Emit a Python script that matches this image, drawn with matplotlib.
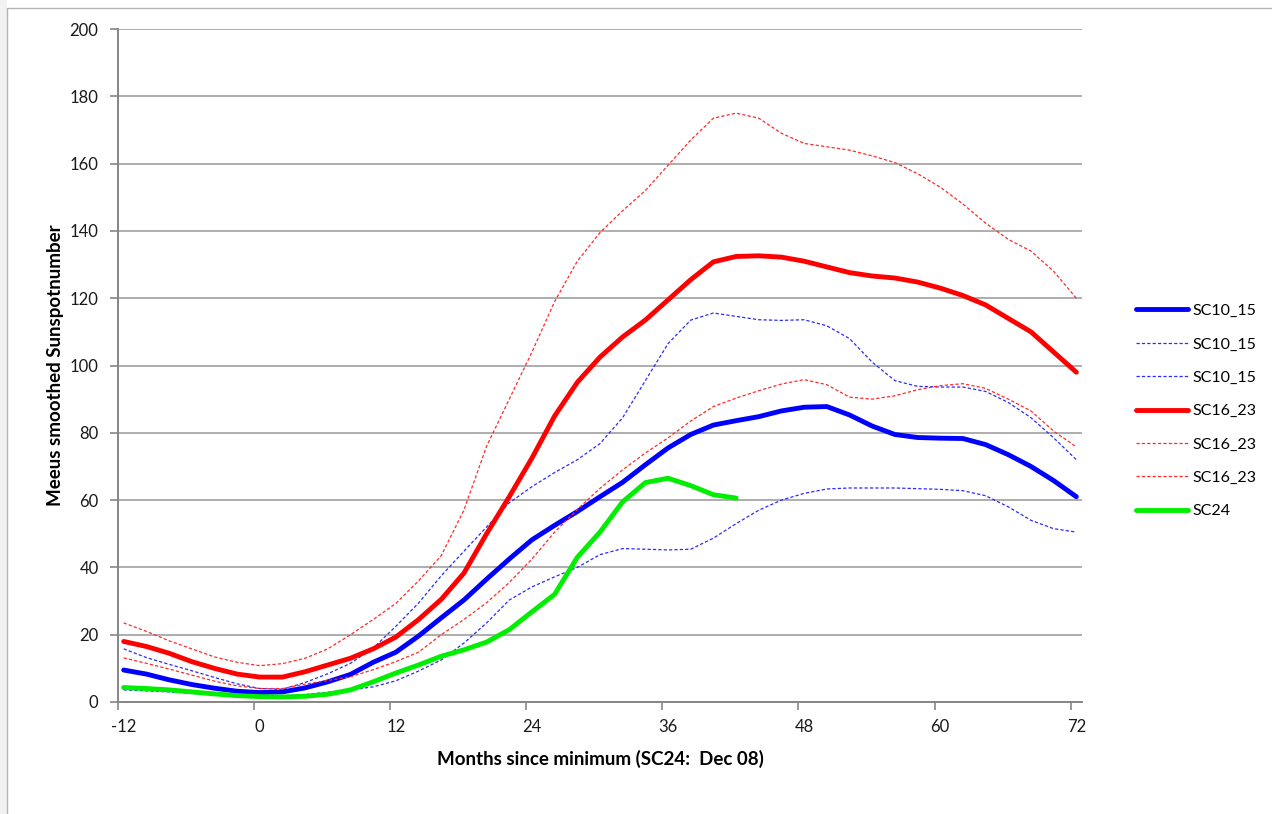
import numpy as np
import matplotlib
matplotlib.use('Agg')
import matplotlib.pyplot as plt
from matplotlib.patches import Rectangle

plt.rcParams['font.family'] = ['Lato', 'DejaVu Sans']

# months since minimum, every 2 months
months = np.arange(-12, 73, 2)
months_sc24 = np.arange(-12, 43, 2)

sc10_15_mean = [9.5, 8.3, 6.6, 5.2, 4.1, 3.2, 2.8, 3.0, 4.2, 6.0, 8.2, 11.8, 14.8,
                19.6, 25.0, 30.3, 36.5, 42.5, 48.2, 52.5, 56.6, 61.0, 65.3, 70.5,
                75.5, 79.5, 82.3, 83.6, 84.8, 86.5, 87.6, 87.8, 85.3, 82.0, 79.5,
                78.6, 78.4, 78.3, 76.5, 73.5, 70.0, 65.8, 61.0]
sc10_15_hi = [15.8, 13.2, 11.2, 9.3, 7.3, 5.4, 4.0, 3.8, 5.8, 8.4, 11.5, 16.0, 22.5,
              29.4, 37.5, 44.8, 52.0, 59.2, 64.0, 68.2, 72.0, 76.8, 84.5, 95.5,
              106.5, 113.5, 115.6, 114.6, 113.6, 113.4, 113.6, 111.8, 108.0, 101.0,
              95.5, 93.8, 93.6, 93.6, 92.3, 89.0, 84.5, 78.5, 72.0]
sc10_15_lo = [3.6, 3.3, 3.0, 2.6, 2.2, 1.9, 1.7, 1.8, 2.2, 2.9, 3.6, 4.5, 6.3,
              9.2, 12.5, 17.5, 23.5, 30.3, 34.2, 37.2, 40.0, 43.8, 45.6, 45.4,
              45.2, 45.4, 48.7, 53.0, 57.0, 60.0, 62.0, 63.3, 63.6, 63.6, 63.6,
              63.4, 63.2, 62.8, 61.3, 58.0, 54.0, 51.5, 50.5]
sc16_23_mean = [18.0, 16.5, 14.5, 12.0, 10.0, 8.3, 7.4, 7.4, 9.0, 11.0, 13.0, 15.8,
                19.3, 24.5, 30.5, 38.3, 50.0, 61.0, 72.5, 85.0, 95.0, 102.5, 108.5,
                113.5, 119.5, 125.5, 130.8, 132.4, 132.6, 132.2, 131.0, 129.3, 127.6,
                126.6, 126.0, 124.8, 123.0, 120.8, 118.0, 114.0, 110.0, 104.0, 98.0]
sc16_23_hi = [23.5, 21.0, 18.2, 15.8, 13.4, 11.8, 10.8, 11.4, 13.0, 15.8, 20.0, 24.5,
              29.3, 36.0, 43.5, 57.0, 76.0, 90.0, 104.0, 119.0, 131.0, 139.5, 146.0,
              152.0, 159.5, 167.0, 173.5, 175.0, 173.5, 169.0, 166.0, 165.0, 164.0,
              162.3, 160.3, 157.0, 153.0, 148.0, 142.3, 137.5, 134.0, 128.0, 120.0]
sc16_23_lo = [13.1, 11.5, 9.8, 8.0, 6.2, 4.8, 4.0, 4.0, 5.3, 6.4, 7.5, 9.6, 12.0,
              14.8, 20.0, 24.5, 29.5, 35.5, 42.5, 50.5, 57.2, 63.5, 69.0, 74.0,
              78.5, 83.5, 87.8, 90.3, 92.5, 94.5, 95.8, 94.3, 90.6, 90.0, 91.0,
              92.8, 94.0, 94.6, 93.2, 90.0, 86.5, 80.5, 75.8]
sc24 = [4.3, 4.0, 3.6, 3.0, 2.4, 1.9, 1.6, 1.5, 1.7, 2.3, 3.6, 6.0, 8.6, 11.0,
        13.6, 15.5, 17.8, 21.5, 26.8, 32.0, 43.0, 50.5, 59.5, 65.2, 66.5, 64.3,
        61.6, 60.6]

x_ticklabels = ['-12', '0', '12', '24', '36', '48', '60', '72']

fig = plt.figure(figsize=(12.72, 8.14), dpi=100)
fig.patch.set_facecolor('white')

# outer chart border
fig.patches.append(Rectangle((0, 0), 7 / 1272, 1, transform=fig.transFigure,
                             facecolor='#f2f2f2', edgecolor='none', zorder=-10))
fig.patches.append(Rectangle((7 / 1272, -0.05), 1.0, 1 - 8 / 814 + 0.05,
                             transform=fig.transFigure, facecolor='none',
                             edgecolor='#b4b4b4', linewidth=1.0, zorder=-10))

ax = fig.add_axes([118 / 1272, 1 - 702 / 814, (1082 - 118) / 1272, (702 - 29) / 814])
ax.set_facecolor('none')

thick = 3.5
thin = 0.9
dash = (0, (2.6, 1.7))
ax.plot(months, sc10_15_mean, color='#0000ff', lw=thick, label='SC10_15',
        solid_capstyle='round', zorder=3)
ax.plot(months, sc10_15_hi, color='#2b2bff', lw=thin, ls=dash, label='SC10_15', zorder=3)
ax.plot(months, sc10_15_lo, color='#2b2bff', lw=thin, ls=dash, label='SC10_15', zorder=3)
ax.plot(months, sc16_23_mean, color='#ff0000', lw=thick, label='SC16_23',
        solid_capstyle='round', zorder=3)
ax.plot(months, sc16_23_hi, color='#ff2a2a', lw=thin, ls=dash, label='SC16_23', zorder=3)
ax.plot(months, sc16_23_lo, color='#ff2a2a', lw=thin, ls=dash, label='SC16_23', zorder=3)
ax.plot(months_sc24, sc24, color='#00ee00', lw=thick, label='SC24',
        solid_capstyle='round', zorder=3)

ax.set_xlim(-12.5, 72.5)
ax.set_ylim(0, 200)

# tick marks between categories, labels on the category
ax.set_xticks(np.arange(-12.5, 72, 12))
ax.set_xticklabels([])
ax.set_xticks(np.arange(-12, 73, 12), minor=True)
ax.set_xticklabels(x_ticklabels, minor=True)
ax.tick_params(axis='x', which='major', length=6, width=1.2, color='#868686',
               direction='out')
ax.tick_params(axis='x', which='minor', length=0, pad=12, labelsize=12,
               labelcolor='#1a1a1a')
ax.set_yticks(np.arange(0, 201, 20))
ax.tick_params(axis='y', length=6, width=1.2, color='#868686', direction='out',
               pad=8, labelsize=12, labelcolor='#1a1a1a')

ax.grid(axis='y', color='#a0a0a0', lw=1.2, zorder=1)
ax.set_axisbelow(True)
for side in ['top', 'right']:
    ax.spines[side].set_visible(False)
for side in ['left', 'bottom']:
    ax.spines[side].set_color('#868686')
    ax.spines[side].set_linewidth(1.4)

ax.set_xlabel('Months since minimum (SC24:  Dec 08)', fontsize=13.5,
              fontweight='bold', labelpad=11)
ax.set_ylabel('Meeus smoothed Sunspotnumber', fontsize=13.5, fontweight='bold',
              labelpad=4)

fig.legend(loc='center left', bbox_to_anchor=(1130 / 1272, 1 - 411 / 814),
           frameon=False, fontsize=11.5, handlelength=3.2, handletextpad=0.3,
           labelspacing=1.2, borderaxespad=0)

fig.savefig('out.png', dpi=100)
